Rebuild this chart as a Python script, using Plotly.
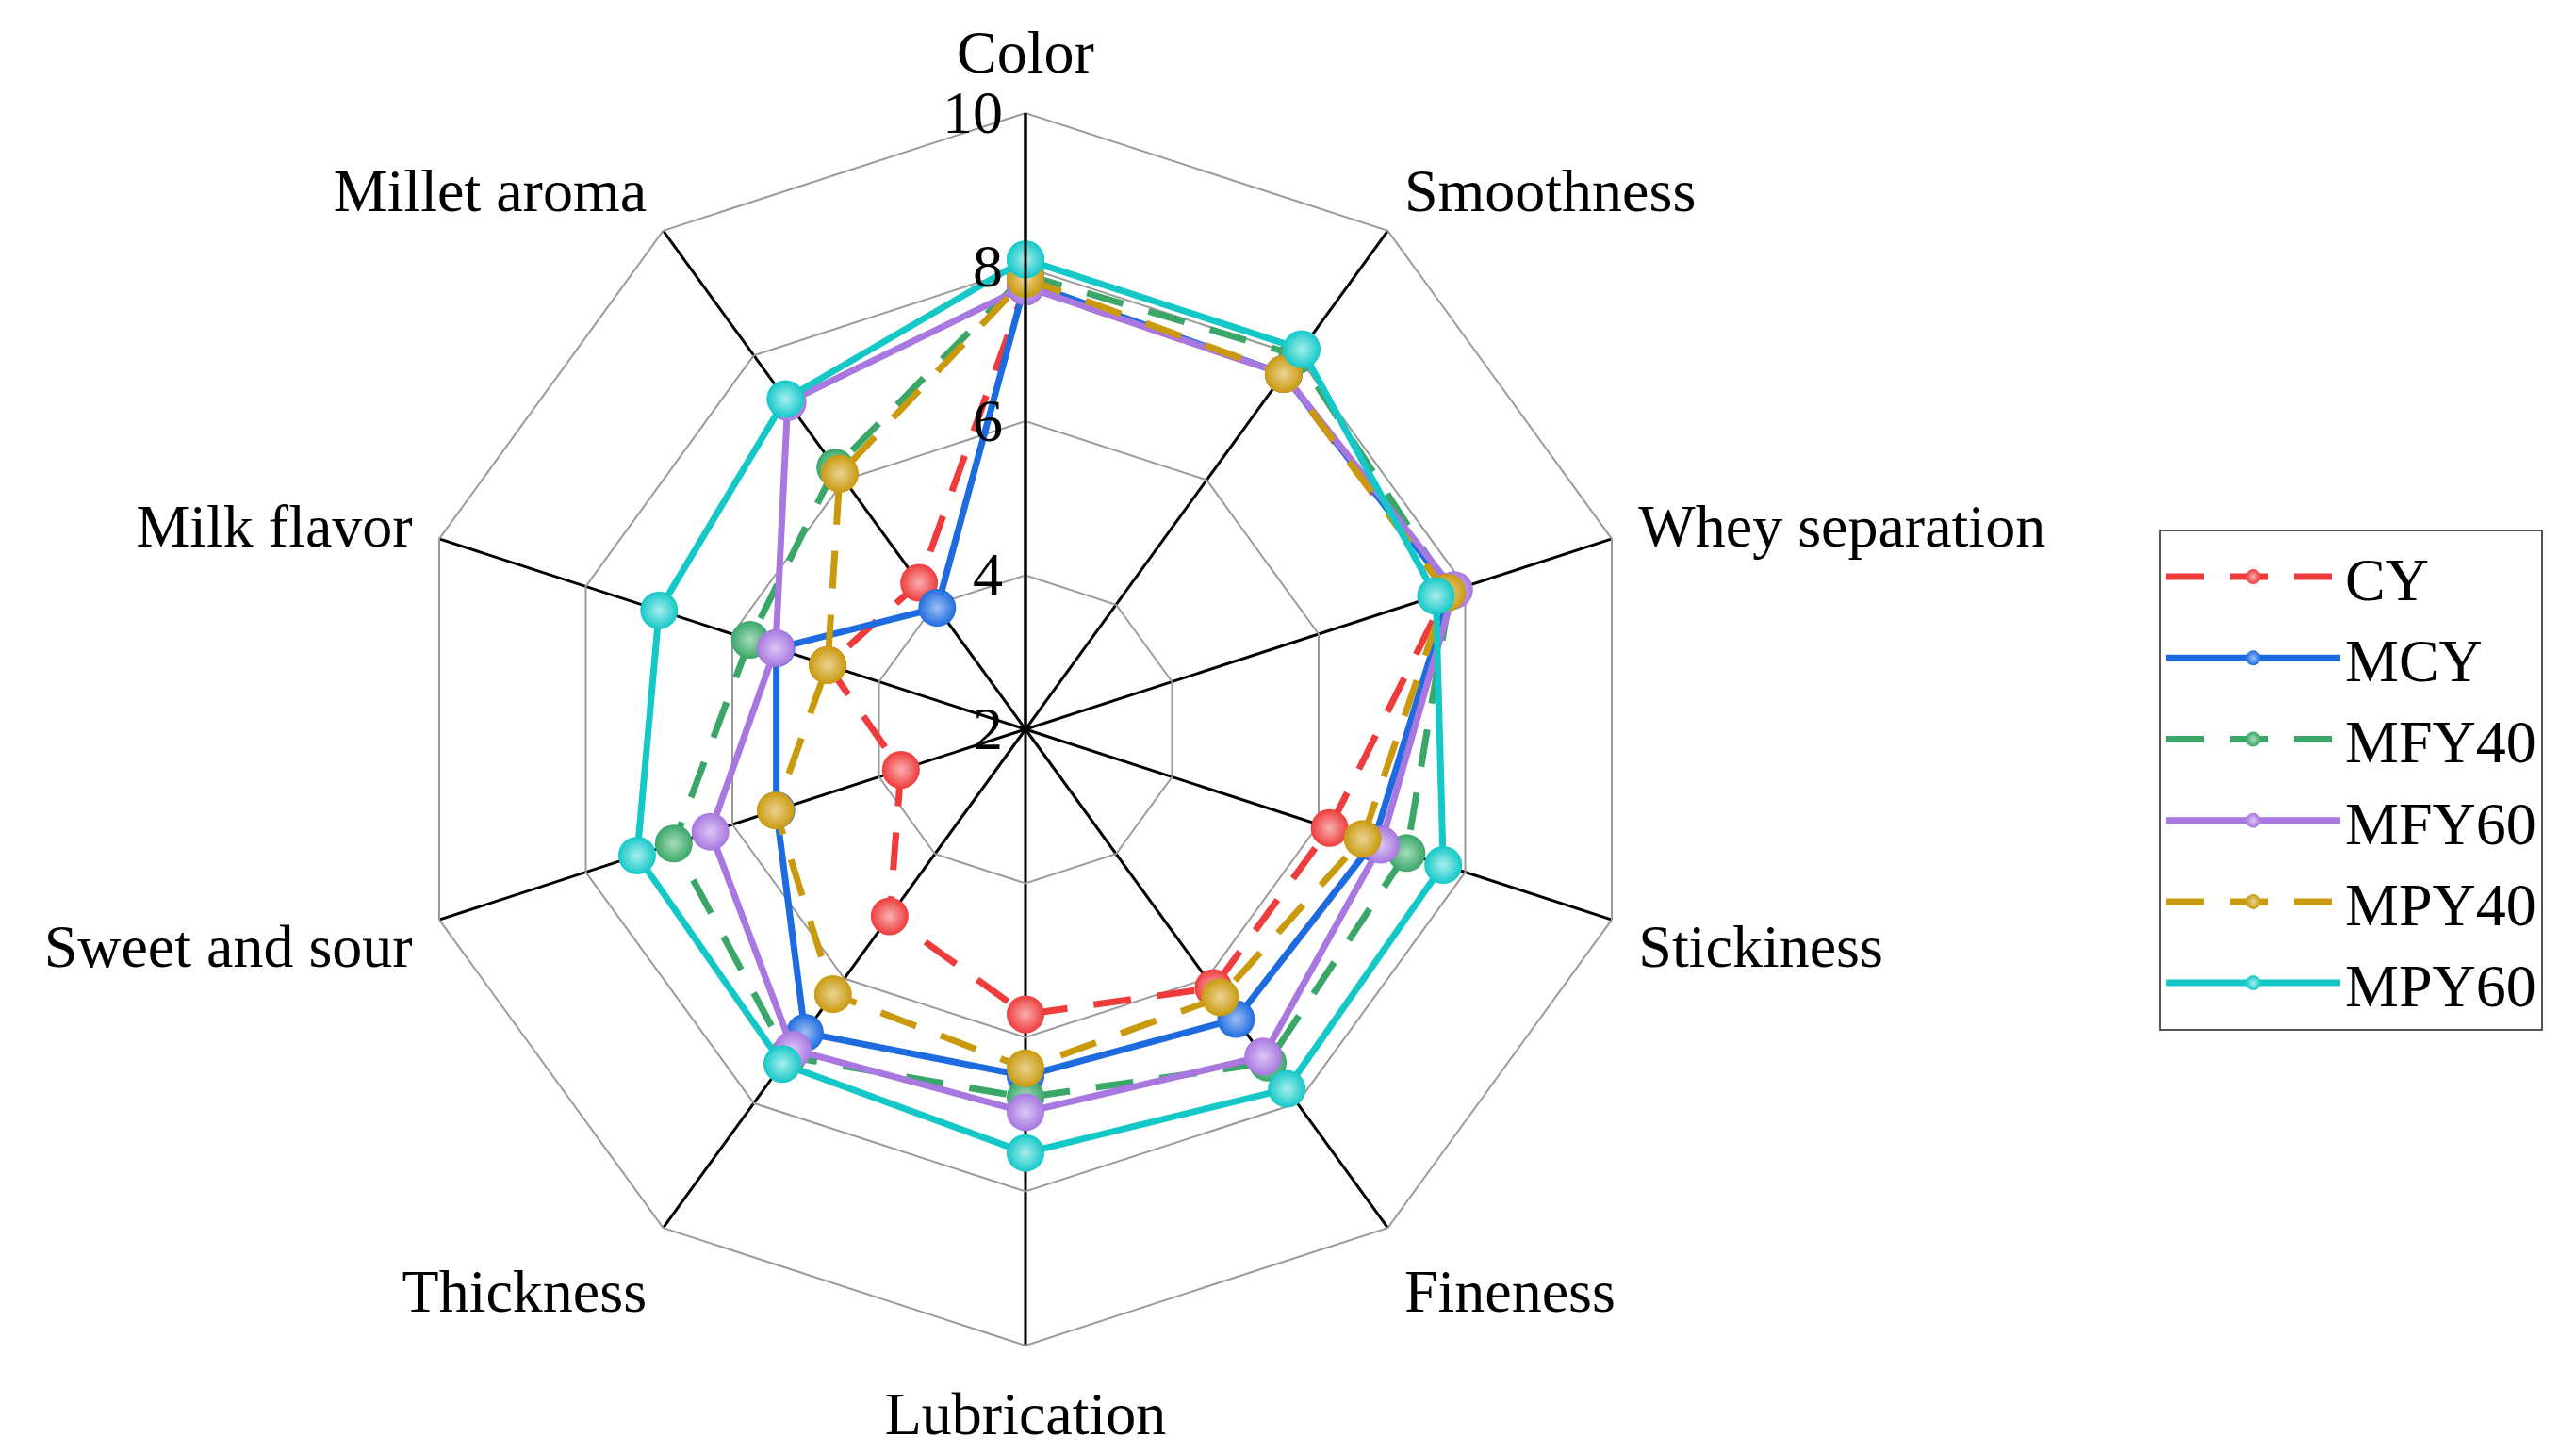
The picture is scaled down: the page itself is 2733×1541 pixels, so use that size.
import plotly.graph_objects as go

categories = ["Color", "Smoothness", "Whey separation", "Stickiness", "Fineness",
              "Lubrication", "Thickness", "Sweet and sour", "Milk flavor", "Millet aroma"]

CY = [7.75, 7.7, 7.75, 6.15, 6.15, 5.7, 5.0, 3.7, 4.7, 4.35]
MCY = [7.8, 7.7, 7.8, 6.75, 6.65, 6.5, 6.87, 5.4, 5.4, 3.95]
MFY40 = [7.9, 8.0, 7.8, 7.2, 7.35, 6.78, 7.25, 6.8, 5.76, 6.2]
MFY60 = [7.75, 7.7, 7.85, 6.85, 7.25, 6.97, 7.14, 6.3, 5.41, 7.25]
MPY40 = [7.85, 7.7, 7.75, 6.6, 6.3, 6.4, 6.25, 5.41, 4.7, 6.1]
MPY60 = [8.1, 8.1, 7.6, 7.7, 7.77, 7.5, 7.37, 7.3, 7.0, 7.3]

series_names = ["CY", "MCY", "MFY40", "MFY60", "MPY40", "MPY60"]
series_values = [CY, MCY, MFY40, MFY60, MPY40, MPY60]
colors = ["#EF3B3B", "#1E6BE0", "#3AA668", "#A877E0", "#C99A0E", "#14C8C8"]
highlights = ["#F8B0B0", "#9DC0F4", "#A6DCBB", "#DCC6F5", "#EBD394", "#A8EEEE"]
dashes = ["40px,28px", "solid", "40px,28px", "solid", "40px,28px", "solid"]

radial_ticks = [2, 4, 6, 8, 10]
FONT = "Liberation Serif, Times New Roman, serif"
FS = 64

fig = go.Figure()
for name, vals, col, hl, dsh in zip(series_names, series_values, colors, highlights, dashes):
    fig.add_trace(go.Scatterpolar(
        r=vals + vals[:1],
        theta=categories + categories[:1],
        mode="lines+markers",
        name=name,
        line=dict(color=col, width=7, dash=dsh),
        marker=dict(size=40, color=col,
                    gradient=dict(type="radial", color=hl)),
    ))

W, H = 2733, 1541
cx, cy, rad = 1080, 766, 654
fig.update_layout(
    width=W, height=H,
    margin=dict(l=0, r=0, t=0, b=0),
    paper_bgcolor="white",
    font=dict(family=FONT, size=FS, color="black"),
    polar=dict(
        domain=dict(x=[(cx - rad) / W, (cx + rad) / W],
                    y=[(H - cy - rad) / H, (H - cy + rad) / H]),
        gridshape="linear",
        bgcolor="white",
        angularaxis=dict(
            type="category",
            direction="clockwise",
            rotation=90,
            gridcolor="black",
            gridwidth=3,
            showline=True,
            linecolor="#9a9a9a",
            linewidth=2,
            ticks="outside",
            ticklen=16,
            tickcolor="rgba(0,0,0,0)",
            tickfont=dict(family=FONT, size=FS, color="black"),
        ),
        radialaxis=dict(
            range=[2, 10],
            tickvals=radial_ticks,
            ticktext=[str(v) for v in radial_ticks],
            angle=90,
            tickangle=90,
            side="counterclockwise",
            showline=True,
            linecolor="black",
            linewidth=3,
            gridcolor="#9a9a9a",
            gridwidth=2,
            ticks="",
            tickfont=dict(family=FONT, size=FS, color="black"),
        ),
    ),
    legend=dict(
        x=2283 / W, y=1 - 554 / H,
        xanchor="left", yanchor="top",
        bordercolor="#555555", borderwidth=2,
        bgcolor="white",
        font=dict(family=FONT, size=FS, color="black"),
        itemwidth=185,
    ),
    showlegend=True,
)

fig.write_html("out.html")
